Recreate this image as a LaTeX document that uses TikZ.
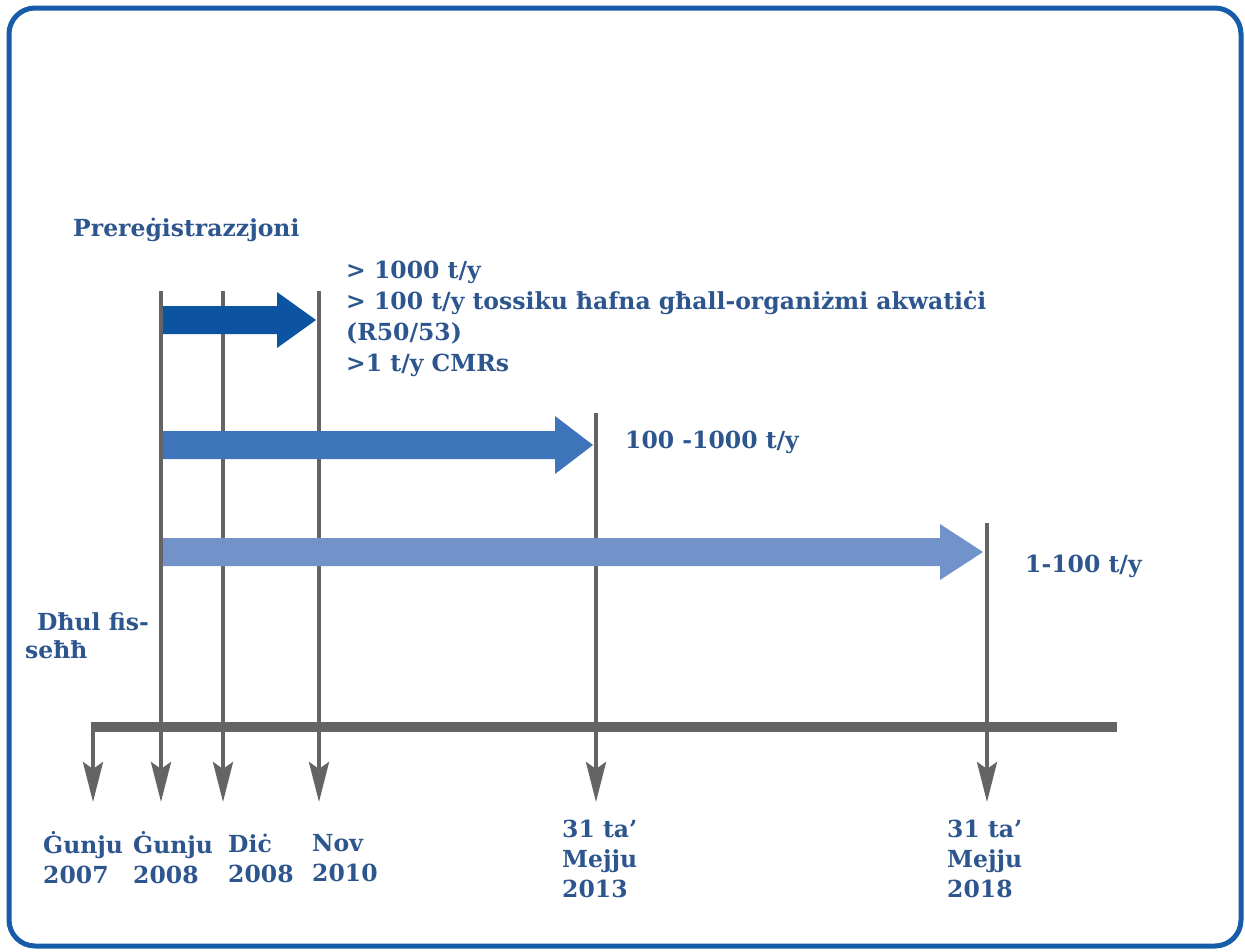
\documentclass[tikz,border=0pt]{standalone}
\usepackage{fontspec}
\setmainfont{DejaVu Serif}
\usetikzlibrary{arrows.meta, positioning}

\definecolor{frameblue}{RGB}{22,92,168}
\definecolor{tickgray}{RGB}{100,100,100}
\definecolor{textblue}{RGB}{45,85,142}
\definecolor{banddark}{RGB}{12,84,162}
\definecolor{bandmid}{RGB}{62,116,186}
\definecolor{bandlight}{RGB}{114,146,202}

\begin{document}
\begin{tikzpicture}[x=1pt, y=-1pt,
  %% Frame and timeline
  frame/.style ={draw=frameblue, line width=5pt, rounded corners=26pt},
  tlbar/.style ={draw=tickgray, line width=10pt},
  tick/.style  ={draw=tickgray, line width=4pt},
  tarr/.style  ={tick, -{Stealth[length=40pt, width=20pt, inset=7pt]}},
  %% Band arrows
  band1/.style ={fill=banddark},
  band2/.style ={fill=bandmid},
  band3/.style ={fill=bandlight},
  %% Labels
  lbl/.style   ={text=textblue, font=\fontsize{23.5}{30}\selectfont\bfseries,
                 inner sep=0pt, align=left, anchor=west}
]

\useasboundingbox (0,0) rectangle (1245,951);
\draw[frame] (9,8) rectangle (1241,946);

%% ── TIMELINE ────────────────────────────────────────────────────
\coordinate (barL) at (91,727);
\coordinate (barR) at (1117,727);
\draw[tlbar] (barL) -- (barR);

\coordinate (topJun07) at (93,722);
\coordinate (endJun07) at (93,802);
\coordinate (topJun08) at (161,291);
\coordinate (endJun08) at (161,802);
\coordinate (topDec08) at (223,291);
\coordinate (endDec08) at (223,802);
\coordinate (topNov10) at (319,291);
\coordinate (endNov10) at (319,802);
\coordinate (topMay13) at (596,413);
\coordinate (endMay13) at (596,802);
\coordinate (topMay18) at (987,523);
\coordinate (endMay18) at (987,802);

\draw[tarr] (topJun07) -- (endJun07);
\draw[tarr] (topJun08) -- (endJun08);
\draw[tarr] (topDec08) -- (endDec08);
\draw[tarr] (topNov10) -- (endNov10);
\draw[tarr] (topMay13) -- (endMay13);
\draw[tarr] (topMay18) -- (endMay18);

%% ── BAND ARROWS ─────────────────────────────────────────────────
%% > 1000 t/y  (up to Nov 2010)
\fill[band1] (163,306) -- (277,306) -- (277,292) -- (316,320)
    -- (277,348) -- (277,334) -- (163,334) -- cycle;
%% 100-1000 t/y  (up to 2013)
\fill[band2] (163,431) -- (555,431) -- (555,416) -- (593,445)
    -- (555,474) -- (555,459) -- (163,459) -- cycle;
%% 1-100 t/y  (up to 2018)
\fill[band3] (163,538) -- (940,538) -- (940,524) -- (983,552)
    -- (940,580) -- (940,566) -- (163,566) -- cycle;

%% ── TEXTS ───────────────────────────────────────────────────────
\node[lbl] (prereg) at (73,230) {Prereġistrazzjoni};
\node[lbl, font=\fontsize{23.5}{31}\selectfont\bfseries] (tier1) at (346,319)
  {> 1000 t/y\\> 100 t/y tossiku ħafna għall-organiżmi akwatiċi\\(R50/53)\\>1 t/y CMRs};
\node[lbl] (tier2)  at (625,442) {100 -1000 t/y};
\node[lbl] (tier3)  at (1025,566) {1-100 t/y};
\node[lbl, font=\fontsize{23.5}{28}\selectfont\bfseries] (entry) at (25,636)
  {\hspace*{12pt}Dħul fis-\\seħħ};

%% ── DATES ───────────────────────────────────────────────────────
\node[lbl] (jun07) at (43,858)  {Ġunju\\2007};
\node[lbl] (jun08) at (133,858) {Ġunju\\2008};
\node[lbl] (dec08) at (228,858) {Diċ\\2008};
\node[lbl] (nov10) at (312,858) {Nov\\2010};
\node[lbl] (may13) at (562,859) {31 ta’\\Mejju\\2013};
\node[lbl] (may18) at (947,859) {31 ta’\\Mejju\\2018};

\end{tikzpicture}
\end{document}
